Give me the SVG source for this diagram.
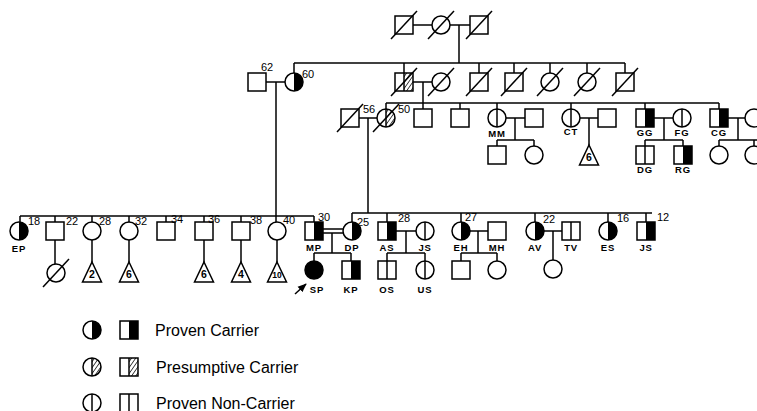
<svg xmlns="http://www.w3.org/2000/svg" width="757" height="411" viewBox="0 0 757 411">
<style>
.s{fill:#fff;stroke:#000;stroke-width:1.5}
.o{fill:none;stroke:#000;stroke-width:1.5}
.l{stroke:#000;stroke-width:1.5;fill:none}
.a{font-family:"Liberation Sans",Arial,sans-serif;font-size:11px;fill:#000}
.n{font-family:"Liberation Sans",Arial,sans-serif;font-size:9.5px;font-weight:bold;fill:#000;text-anchor:middle;letter-spacing:0.8px}
.tn{font-family:"Liberation Sans",Arial,sans-serif;font-size:10.5px;font-weight:bold;fill:#000;text-anchor:middle}
.lg{font-family:"Liberation Sans",Arial,sans-serif;font-size:16px;fill:#000}
</style>
<defs>
<pattern id="hatch" width="3.4" height="3.4" patternUnits="userSpaceOnUse" patternTransform="rotate(35)"><line x1="0" y1="0" x2="0" y2="3.4" stroke="#000" stroke-width="1.4"/></pattern>
<rect id="sq" x="-9" y="-9" width="18" height="18" class="s"/>
<circle id="ci" r="9" class="s"/>
<g id="sqC"><rect x="-9" y="-9" width="18" height="18" fill="#fff"/><rect x="0" y="-9" width="9" height="18" fill="#000"/><rect x="-9" y="-9" width="18" height="18" class="o"/></g>
<g id="ciC"><circle r="9" fill="#fff"/><path d="M0,-9A9,9 0 0 1 0,9Z" fill="#000"/><circle r="9" class="o"/></g>
<g id="ciF"><circle r="9" fill="#000" stroke="#000" stroke-width="1.5"/></g>
<g id="sqN"><rect x="-9" y="-9" width="18" height="18" class="s"/><line x1="0" y1="-9" x2="0" y2="9" class="l"/></g>
<g id="ciN"><circle r="9" class="s"/><line x1="0" y1="-9" x2="0" y2="9" class="l"/></g>
<g id="sqH"><rect x="-9" y="-9" width="18" height="18" fill="#fff"/><rect x="0" y="-9" width="9" height="18" fill="url(#hatch)"/><line x1="0" y1="-9" x2="0" y2="9" class="l"/><rect x="-9" y="-9" width="18" height="18" class="o"/></g>
<g id="ciH"><circle r="9" fill="#fff"/><path d="M0,-9A9,9 0 0 1 0,9Z" fill="url(#hatch)"/><line x1="0" y1="-9" x2="0" y2="9" class="l"/><circle r="9" class="o"/></g>
<line id="sl" x1="-13" y1="14" x2="13" y2="-14" class="l"/>
<path id="tri" d="M0,0L9.5,20L-9.5,20Z" class="s"/>
<marker id="arr" viewBox="0 0 10 10" refX="9" refY="5" markerWidth="6" markerHeight="6" orient="auto"><path d="M0,1L10,5L0,9Z" fill="#000"/></marker>
</defs>
<rect width="757" height="411" fill="#fff"/>

<g id="connectors">
<line x1="413" y1="25" x2="432" y2="25" class="l"/>
<line x1="450" y1="25" x2="470" y2="25" class="l"/>
<line x1="459" y1="25" x2="459" y2="63" class="l"/>
<line x1="294" y1="63" x2="625" y2="63" class="l"/>
<line x1="294" y1="63" x2="294" y2="73" class="l"/>
<line x1="404" y1="63" x2="404" y2="73" class="l"/>
<line x1="479" y1="63" x2="479" y2="73" class="l"/>
<line x1="514" y1="63" x2="514" y2="73" class="l"/>
<line x1="550" y1="63" x2="550" y2="73" class="l"/>
<line x1="587" y1="63" x2="587" y2="73" class="l"/>
<line x1="625" y1="63" x2="625" y2="73" class="l"/>
<line x1="266" y1="82" x2="285" y2="82" class="l"/>
<line x1="276" y1="82" x2="276" y2="222" class="l"/>
<line x1="413" y1="82" x2="432" y2="82" class="l"/>
<line x1="423" y1="82" x2="423" y2="103" class="l"/>
<line x1="386" y1="103" x2="719" y2="103" class="l"/>
<line x1="386" y1="103" x2="386" y2="109" class="l"/>
<line x1="423" y1="103" x2="423" y2="109" class="l"/>
<line x1="460" y1="103" x2="460" y2="109" class="l"/>
<line x1="497" y1="103" x2="497" y2="109" class="l"/>
<line x1="571" y1="103" x2="571" y2="109" class="l"/>
<line x1="645" y1="103" x2="645" y2="109" class="l"/>
<line x1="719" y1="103" x2="719" y2="109" class="l"/>
<line x1="359" y1="118" x2="377" y2="118" class="l"/>
<line x1="368" y1="118" x2="368" y2="213" class="l"/>
<line x1="506" y1="118" x2="525" y2="118" class="l"/>
<line x1="515" y1="118" x2="515" y2="140" class="l"/>
<line x1="497" y1="140" x2="534" y2="140" class="l"/>
<line x1="497" y1="140" x2="497" y2="146" class="l"/>
<line x1="534" y1="140" x2="534" y2="146" class="l"/>
<line x1="580" y1="118" x2="598" y2="118" class="l"/>
<line x1="589" y1="118" x2="589" y2="145" class="l"/>
<line x1="654" y1="118" x2="673" y2="118" class="l"/>
<line x1="664" y1="118" x2="664" y2="140" class="l"/>
<line x1="645" y1="140" x2="683" y2="140" class="l"/>
<line x1="645" y1="140" x2="645" y2="146" class="l"/>
<line x1="683" y1="140" x2="683" y2="146" class="l"/>
<line x1="728" y1="118" x2="745" y2="118" class="l"/>
<line x1="738" y1="118" x2="738" y2="140" class="l"/>
<line x1="719" y1="140" x2="760" y2="140" class="l"/>
<line x1="719" y1="140" x2="719" y2="146" class="l"/>
<line x1="754" y1="140" x2="754" y2="146" class="l"/>
<line x1="20" y1="216" x2="314" y2="216" class="l"/>
<line x1="20" y1="216" x2="20" y2="222" class="l"/>
<line x1="55" y1="216" x2="55" y2="222" class="l"/>
<line x1="92" y1="216" x2="92" y2="222" class="l"/>
<line x1="129" y1="216" x2="129" y2="222" class="l"/>
<line x1="166" y1="216" x2="166" y2="222" class="l"/>
<line x1="204" y1="216" x2="204" y2="222" class="l"/>
<line x1="241" y1="216" x2="241" y2="222" class="l"/>
<line x1="314" y1="216" x2="314" y2="222" class="l"/>
<line x1="55" y1="240" x2="55" y2="264" class="l"/>
<line x1="92" y1="240" x2="92" y2="262" class="l"/>
<line x1="129" y1="240" x2="129" y2="262" class="l"/>
<line x1="204" y1="240" x2="204" y2="262" class="l"/>
<line x1="241" y1="240" x2="241" y2="262" class="l"/>
<line x1="277" y1="240" x2="277" y2="262" class="l"/>
<line x1="352" y1="213" x2="652" y2="213" class="l"/>
<line x1="352" y1="213" x2="352" y2="222" class="l"/>
<line x1="387" y1="213" x2="387" y2="222" class="l"/>
<line x1="461" y1="213" x2="461" y2="222" class="l"/>
<line x1="535" y1="213" x2="535" y2="222" class="l"/>
<line x1="608" y1="213" x2="608" y2="222" class="l"/>
<line x1="646" y1="213" x2="646" y2="222" class="l"/>
<line x1="323" y1="229" x2="343" y2="229" class="l"/>
<line x1="323" y1="233" x2="343" y2="233" class="l"/>
<line x1="332" y1="233" x2="332" y2="253" class="l"/>
<line x1="314" y1="253" x2="351" y2="253" class="l"/>
<line x1="314" y1="253" x2="314" y2="261" class="l"/>
<line x1="351" y1="253" x2="351" y2="261" class="l"/>
<line x1="396" y1="231" x2="416" y2="231" class="l"/>
<line x1="406" y1="231" x2="406" y2="253" class="l"/>
<line x1="387" y1="253" x2="425" y2="253" class="l"/>
<line x1="387" y1="253" x2="387" y2="261" class="l"/>
<line x1="425" y1="253" x2="425" y2="261" class="l"/>
<line x1="470" y1="231" x2="488" y2="231" class="l"/>
<line x1="478" y1="231" x2="478" y2="253" class="l"/>
<line x1="461" y1="253" x2="497" y2="253" class="l"/>
<line x1="461" y1="253" x2="461" y2="261" class="l"/>
<line x1="497" y1="253" x2="497" y2="261" class="l"/>
<line x1="544" y1="231" x2="562" y2="231" class="l"/>
<line x1="553" y1="231" x2="553" y2="260" class="l"/>
<line x1="295" y1="294" x2="306" y2="284" class="l" marker-end="url(#arr)"/>
</g>

<g id="g1-father1"><use href="#sq" x="404" y="25"/><use href="#sl" x="404" y="25"/></g>
<g id="g1-mother"><use href="#ci" x="441" y="25"/><use href="#sl" x="441" y="25"/></g>
<g id="g1-father2"><use href="#sq" x="479" y="25"/><use href="#sl" x="479" y="25"/></g>

<g id="n62"><use href="#sq" x="257" y="82"/><text class="a" x="261" y="71">62</text></g>
<g id="n60"><use href="#ciC" x="294" y="82"/><text class="a" x="302" y="78">60</text></g>
<g id="g2-b1"><use href="#sqH" x="404" y="82"/><use href="#sl" x="404" y="82"/></g>
<g id="g2-w1"><use href="#ci" x="441" y="82"/><use href="#sl" x="441" y="82"/></g>
<g id="g2-b2"><use href="#sq" x="479" y="82"/><use href="#sl" x="479" y="82"/></g>
<g id="g2-b3"><use href="#sq" x="514" y="82"/><use href="#sl" x="514" y="82"/></g>
<g id="g2-s1"><use href="#ci" x="550" y="82"/><use href="#sl" x="550" y="82"/></g>
<g id="g2-s2"><use href="#ci" x="587" y="82"/><use href="#sl" x="587" y="82"/></g>
<g id="g2-b4"><use href="#sq" x="625" y="82"/><use href="#sl" x="625" y="82"/></g>

<g id="n56"><use href="#sq" x="350" y="118"/><use href="#sl" x="350" y="118"/><text class="a" x="363" y="113">56</text></g>
<g id="n50"><use href="#ciH" x="386" y="118"/><use href="#sl" x="386" y="118"/><text class="a" x="398" y="113">50</text></g>
<g id="g3-b1"><use href="#sq" x="423" y="118"/></g>
<g id="g3-b2"><use href="#sq" x="460" y="118"/></g>
<g id="MM"><use href="#ciN" x="497" y="118"/><text class="n" x="497" y="137">MM</text></g>
<g id="MM-spouse"><use href="#sq" x="534" y="118"/></g>
<g id="MM-son"><use href="#sq" x="497" y="155"/></g>
<g id="MM-dau"><use href="#ci" x="534" y="155"/></g>
<g id="CT"><use href="#ciN" x="571" y="118"/><text class="n" x="571" y="135">CT</text></g>
<g id="CT-spouse"><use href="#sq" x="607" y="118"/></g>
<g id="CT-children"><use href="#tri" x="589" y="145"/><text class="tn" x="589" y="161">6</text></g>
<g id="GG"><use href="#sqC" x="645" y="118"/><text class="n" x="645" y="136">GG</text></g>
<g id="FG"><use href="#ciN" x="682" y="118"/><text class="n" x="682" y="136">FG</text></g>
<g id="DG"><use href="#sqN" x="645" y="155"/><text class="n" x="645" y="173">DG</text></g>
<g id="RG"><use href="#sqC" x="683" y="155"/><text class="n" x="683" y="173">RG</text></g>
<g id="CG"><use href="#sqC" x="719" y="118"/><text class="n" x="719" y="136">CG</text></g>
<g id="CG-spouse"><use href="#ci" x="754" y="118"/></g>
<g id="CG-dau1"><use href="#ci" x="719" y="155"/></g>
<g id="CG-dau2"><use href="#ci" x="754" y="155"/></g>

<g id="EP"><use href="#ciC" x="19" y="231"/><text class="a" x="28" y="225">18</text><text class="n" x="19" y="252">EP</text></g>
<g id="n22"><use href="#sq" x="55" y="231"/><text class="a" x="66" y="225">22</text></g>
<g id="n22-dau"><use href="#ci" x="56" y="273"/><use href="#sl" x="56" y="273"/></g>
<g id="n28"><use href="#ci" x="92" y="231"/><text class="a" x="99" y="225">28</text></g>
<g id="n28-ch"><use href="#tri" x="92" y="262"/><text class="tn" x="92" y="278">2</text></g>
<g id="n32"><use href="#ci" x="129" y="231"/><text class="a" x="135" y="225">32</text></g>
<g id="n32-ch"><use href="#tri" x="129" y="262"/><text class="tn" x="129" y="278">6</text></g>
<g id="n34"><use href="#sq" x="166" y="231"/><text class="a" x="171" y="223">34</text></g>
<g id="n36"><use href="#sq" x="204" y="231"/><text class="a" x="208" y="223">36</text></g>
<g id="n36-ch"><use href="#tri" x="204" y="262"/><text class="tn" x="204" y="278">6</text></g>
<g id="n38"><use href="#sq" x="241" y="231"/><text class="a" x="250" y="224">38</text></g>
<g id="n38-ch"><use href="#tri" x="241" y="262"/><text class="tn" x="241" y="278">4</text></g>
<g id="n40"><use href="#ci" x="277" y="231"/><text class="a" x="283" y="224">40</text></g>
<g id="n40-ch"><use href="#tri" x="277" y="262"/><text class="tn" x="277" y="278" style="font-size:8.5px">10</text></g>
<g id="MP"><use href="#sqC" x="314" y="231"/><text class="a" x="318" y="221">30</text><text class="n" x="314" y="251">MP</text></g>

<g id="DP"><use href="#ciC" x="352" y="231"/><text class="a" x="357" y="226">25</text><text class="n" x="352" y="251">DP</text></g>
<g id="AS"><use href="#sqC" x="387" y="231"/><text class="a" x="398" y="222">28</text><text class="n" x="387" y="251">AS</text></g>
<g id="JS1"><use href="#ciN" x="425" y="231"/><text class="n" x="425" y="251">JS</text></g>
<g id="EH"><use href="#ciC" x="461" y="231"/><text class="a" x="465" y="221">27</text><text class="n" x="461" y="251">EH</text></g>
<g id="MH"><use href="#sq" x="497" y="231"/><text class="n" x="497" y="251">MH</text></g>
<g id="AV"><use href="#ciC" x="535" y="231"/><text class="a" x="543" y="223">22</text><text class="n" x="535" y="251">AV</text></g>
<g id="TV"><use href="#sqN" x="571" y="231"/><text class="n" x="571" y="251">TV</text></g>
<g id="ES"><use href="#ciC" x="608" y="231"/><text class="a" x="617" y="222">16</text><text class="n" x="608" y="251">ES</text></g>
<g id="JS2"><use href="#sqC" x="646" y="231"/><text class="a" x="657" y="221">12</text><text class="n" x="646" y="251">JS</text></g>

<g id="SP"><use href="#ciF" x="314" y="270"/><text class="n" x="317" y="293">SP</text></g>
<g id="KP"><use href="#sqC" x="351" y="270"/><text class="n" x="351" y="293">KP</text></g>
<g id="OS"><use href="#sqN" x="387" y="270"/><text class="n" x="387" y="293">OS</text></g>
<g id="US"><use href="#ciN" x="425" y="270"/><text class="n" x="425" y="293">US</text></g>
<g id="EH-son"><use href="#sq" x="461" y="270"/></g>
<g id="EH-dau"><use href="#ci" x="497" y="270"/></g>
<g id="AV-dau"><use href="#ci" x="553" y="269"/></g>

<g id="legend">
<use href="#ciC" x="92" y="330"/><use href="#sqC" x="129" y="330"/>
<text class="lg" x="155" y="336">Proven Carrier</text>
<use href="#ciH" x="92" y="367"/><use href="#sqH" x="129" y="367"/>
<text class="lg" x="156" y="373">Presumptive Carrier</text>
<use href="#ciN" x="92" y="403"/><use href="#sqN" x="129" y="403"/>
<text class="lg" x="156" y="409">Proven Non-Carrier</text>
</g>
</svg>
